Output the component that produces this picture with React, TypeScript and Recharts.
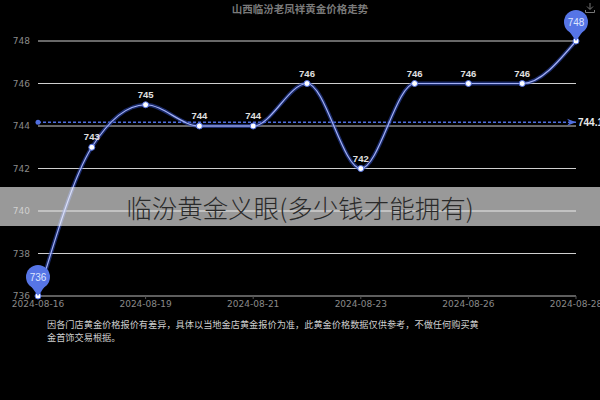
import React from 'react';
import {
  LineChart,
  Line,
  XAxis,
  YAxis,
  CartesianGrid,
  ReferenceLine,
  ReferenceDot,
  LabelList,
} from 'recharts';

// Dates on the category axis (only every second one is labelled)
const dates = [
  '2024-08-16', '2024-08-17', '2024-08-19', '2024-08-20', '2024-08-21', '2024-08-22',
  '2024-08-23', '2024-08-24', '2024-08-26', '2024-08-27', '2024-08-28',
];

// Gold price per gram
const prices = [736, 743, 745, 744, 744, 746, 742, 746, 746, 746, 748];

const yTicks = [736, 738, 740, 742, 744, 746, 748];

const title = '山西临汾老凤祥黄金价格走势';
const bannerText = '临汾黄金义眼(多少钱才能拥有)';
const noteLines = [
  '因各门店黄金价格报价有差异，具体以当地金店黄金报价为准，此黄金价格数据仅供参考，不做任何购买黄',
  '金首饰交易根据。',
];

const data = dates.map((date, i) => ({ date, price: prices[i] }));

const avg = prices.reduce((s, v) => s + v, 0) / prices.length;
const maxIdx = prices.indexOf(Math.max(...prices));
const minIdx = prices.indexOf(Math.min(...prices));

const PIN = '#5675e6';
const LINE = '#a3b0f5';
const FONT = 'DejaVu Sans, sans-serif';
const NUM_FONT = '"Liberation Sans", Arial, sans-serif';

// Balloon style marker (like an echarts markPoint pin)
const pinShape = (value: number) => (props: any) => {
  const { cx, cy } = props;
  const r = 12;
  const c = cy - 19;
  return (
    <g>
      <path d={`M${cx - 7},${c + 9} L${cx},${cy} L${cx + 7},${c + 9} Z`} fill={PIN} />
      <circle cx={cx} cy={c} r={r} fill={PIN} />
      <text x={cx} y={c + 3.5} textAnchor="middle" fill="#dfe6ff" fontSize={10} fontFamily={NUM_FONT}>
        {value}
      </text>
    </g>
  );
};

const arrowShape = (props: any) => {
  const { cx, cy } = props;
  return <path d={`M${cx - 9},${cy - 3.5} L${cx},${cy} L${cx - 9},${cy + 3.5} L${cx - 6},${cy} Z`} fill="#4f6ee0" />;
};

const startDot = (props: any) => {
  const { cx, cy } = props;
  return <circle cx={cx} cy={cy} r={2.5} fill="#4f6ee0" />;
};

// value labels, skipped where a pin sits
const renderValue = (props: any) => {
  const { x, y, value, index } = props;
  if (index === maxIdx || index === minIdx) return null;
  return (
    <text x={x} y={y - 7} textAnchor="middle" fill="#e0e0e0" fontSize={9.5} fontWeight="bold" fontFamily={NUM_FONT}>
      {value}
    </text>
  );
};

const DownloadIcon = () => (
  <svg width="12" height="12" style={{ position: 'absolute', left: 584, top: 2 }}>
    <path d="M6 1 V7 M3 4.5 L6 7.5 L9 4.5 M1.5 8 V10.5 H10.5 V8" stroke="#777" strokeWidth="1" fill="none" />
  </svg>
);

const App: React.FC = () => {
  return (
    <div
      style={{
        position: 'fixed',
        left: 0,
        top: 0,
        width: 600,
        height: 400,
        background: '#000',
        overflow: 'hidden',
        fontFamily: '"Noto Sans CJK SC", sans-serif',
      }}
    >
      <div
        style={{
          position: 'absolute',
          top: 1,
          left: 0,
          width: 600,
          textAlign: 'center',
          color: '#7a7a7a',
          fontSize: 10.5,
          fontWeight: 'bold',
        }}
      >
        {title}
      </div>
      <DownloadIcon />

      <LineChart width={600} height={400} data={data} margin={{ top: 41, right: 24, left: 0, bottom: 84 }}>
        <CartesianGrid vertical={false} stroke="#cfcfcf" strokeWidth={1} />
        <XAxis
          dataKey="date"
          interval={1}
          height={20}
          axisLine={{ stroke: '#555' }}
          tickLine={{ stroke: '#555' }}
          tickSize={3}
          tick={{ fill: '#8a8a8a', fontSize: 9, fontFamily: FONT }}
        />
        <YAxis
          width={38}
          domain={[736, 748]}
          ticks={yTicks}
          axisLine={false}
          tickLine={false}
          tick={{ fill: '#8a8a8a', fontSize: 9, fontFamily: FONT }}
        />
        <ReferenceLine
          y={avg}
          stroke="#4f6ee0"
          strokeWidth={1.5}
          strokeDasharray="3 2"
          label={{
            value: avg.toFixed(2),
            position: 'right',
            offset: 2,
            fill: '#e8e8e8',
            fontSize: 10,
            fontWeight: 'bold',
            fontFamily: NUM_FONT,
          }}
        />
        <ReferenceDot x={dates[0]} y={avg} shape={startDot} />
        <ReferenceDot x={dates[dates.length - 1]} y={avg} shape={arrowShape} />
        <Line
          type="monotone"
          dataKey="price"
          stroke="#2f4cc0"
          strokeOpacity={0.55}
          strokeWidth={4}
          dot={false}
          activeDot={false}
          isAnimationActive={false}
        />
        <Line
          type="monotone"
          dataKey="price"
          stroke={LINE}
          strokeWidth={1.2}
          dot={{ r: 3, fill: '#fff', stroke: '#4f6ee0', strokeWidth: 1 }}
          isAnimationActive={false}
        >
          <LabelList dataKey="price" content={renderValue} />
        </Line>
        <ReferenceDot x={dates[maxIdx]} y={prices[maxIdx]} shape={pinShape(prices[maxIdx])} />
        <ReferenceDot x={dates[minIdx]} y={prices[minIdx]} shape={pinShape(prices[minIdx])} />
      </LineChart>

      <div
        style={{
          position: 'absolute',
          left: 47,
          top: 318,
          color: '#cfcfcf',
          fontSize: 9.2,
          lineHeight: '13px',
          whiteSpace: 'nowrap',
        }}
      >
        {noteLines.map((l) => (
          <div key={l}>{l}</div>
        ))}
      </div>

      <div
        style={{
          position: 'absolute',
          left: 0,
          top: 187,
          width: 600,
          height: 39,
          background: 'rgba(255,255,255,0.6)',
          display: 'flex',
          alignItems: 'center',
          justifyContent: 'center',
          color: '#2a2a2a',
          fontSize: 25.5,
          fontWeight: 300,
        }}
      >
        {bannerText}
      </div>
    </div>
  );
};

export default App;
